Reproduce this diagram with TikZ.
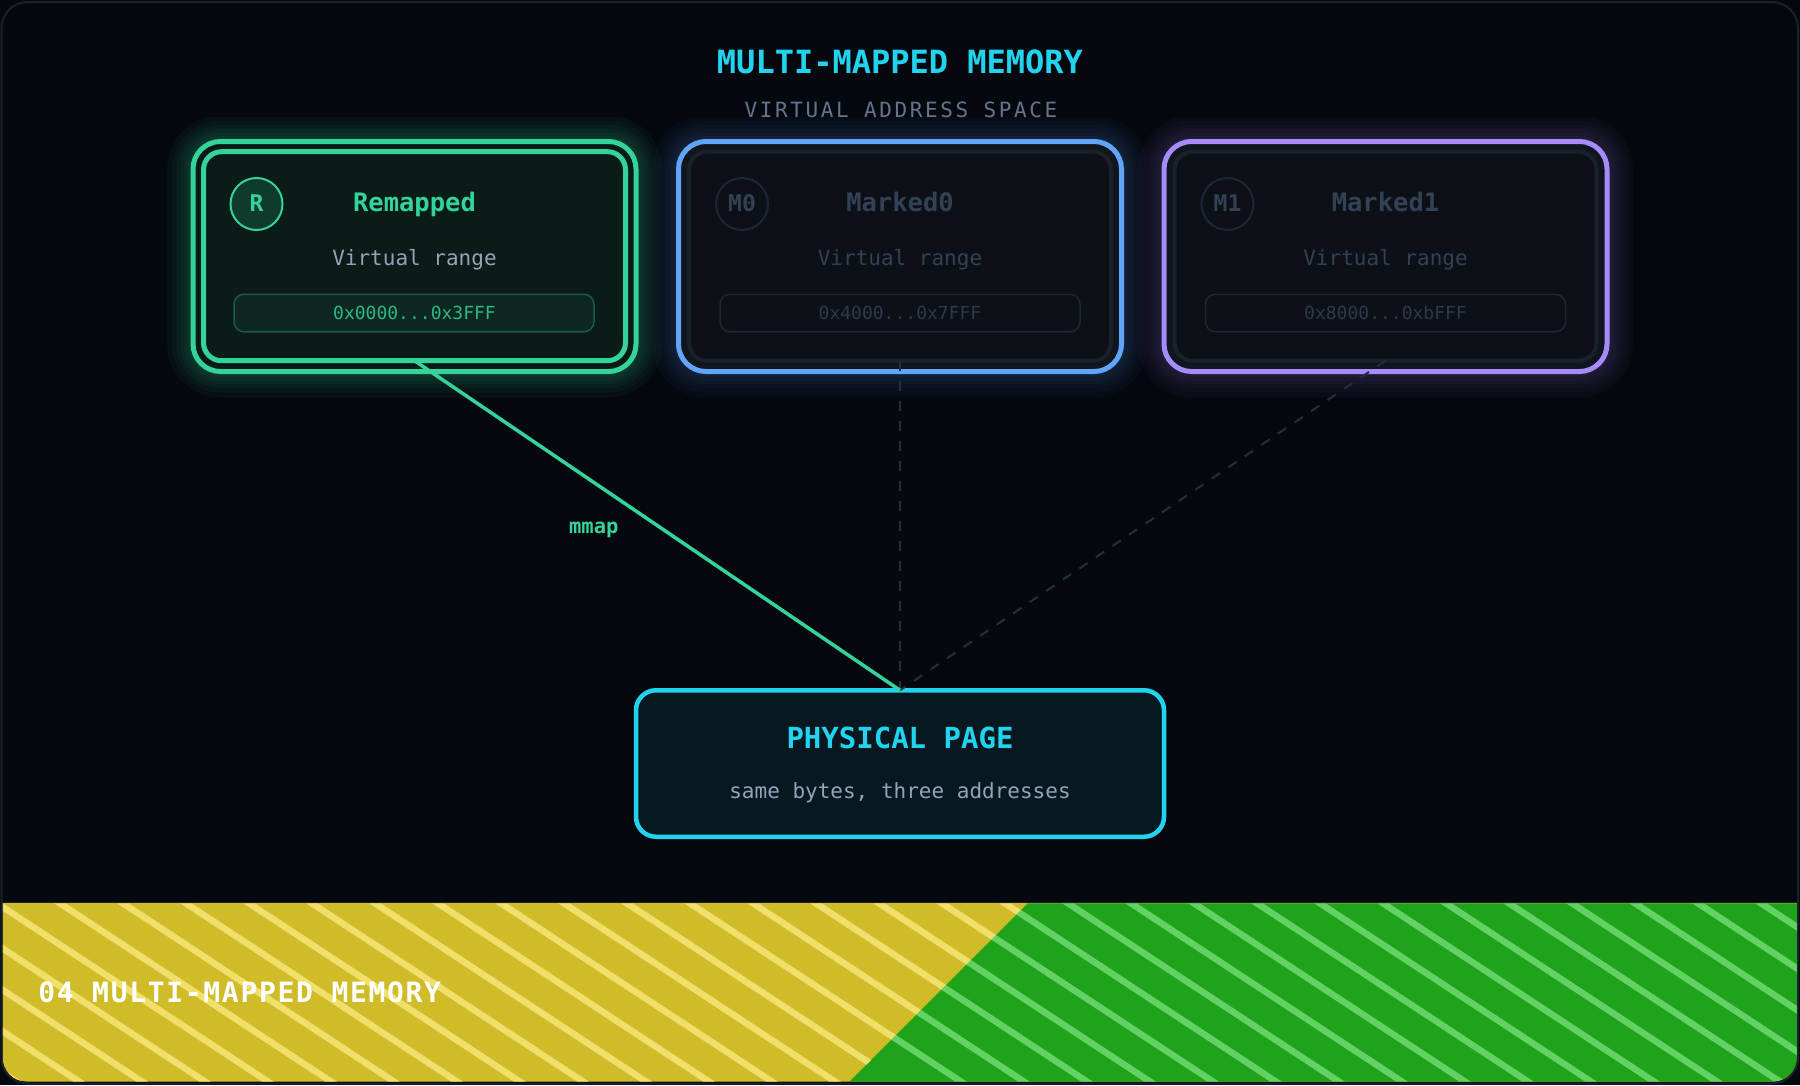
\documentclass[tikz,border=0pt]{standalone}
\usepackage{fontspec}
\newfontfamily\dvm{DejaVu Sans Mono}
\newfontfamily\dvmsub[LetterSpace=12.5]{DejaVu Sans Mono}
\newfontfamily\dvmband[LetterSpace=6]{DejaVu Sans Mono}
\usetikzlibrary{calc}
\definecolor{bg}{HTML}{05080F}
\definecolor{framec}{HTML}{1C222C}
\definecolor{ccyan}{HTML}{22D3EE}
\definecolor{cgreen}{HTML}{34D399}
\definecolor{cblue}{HTML}{60A5FA}
\definecolor{cviolet}{HTML}{A78BFA}
\definecolor{slatefour}{HTML}{94A3B8}
\definecolor{slatefive}{HTML}{64748B}
\definecolor{dimtext}{HTML}{334155}
\definecolor{dimaddr}{HTML}{2E3A4A}
\definecolor{dimline}{HTML}{1E2733}
\definecolor{dashc}{HTML}{252E3B}
\definecolor{remfill}{HTML}{0A1B18}
\definecolor{remring}{HTML}{0A1A17}
\definecolor{rempill}{HTML}{0D2823}
\definecolor{rempilld}{HTML}{1B5A45}
\definecolor{remaddr}{HTML}{2DB886}
\definecolor{badgefill}{HTML}{0F3A2D}
\definecolor{mfill}{HTML}{0D1017}
\definecolor{mring}{HTML}{10151E}
\definecolor{mcardline}{HTML}{1A212B}
\definecolor{physfill}{HTML}{081820}
\definecolor{yel}{HTML}{CFBC28}
\definecolor{yell}{HTML}{F0DF6B}
\definecolor{grn}{HTML}{1EA31B}
\definecolor{grnl}{HTML}{63D163}
\newcommand\glowbox[3]{%
  \begin{scope}
    \clip (#1-266.5,117.5) rectangle (#1+266.5,397.5);
    \foreach \w in {52,42,33,25,18,11}{%
      \draw[#2, opacity=#3, line width=\w pt, rounded corners=27.5pt] (#1-221.5,141.5) rectangle (#1+221.5,371.5);}
  \end{scope}}
\begin{document}
\begin{tikzpicture}[x=1pt,y=-1pt,
  every node/.style={inner sep=0pt, outer sep=0pt},
  ringbox/.style={rectangle, line width=5pt, rounded corners=27.5pt, minimum width=443pt, minimum height=230pt},
  cardbox/.style={rectangle, line width=4pt, rounded corners=18pt, minimum width=422pt, minimum height=209pt},
  pillbox/.style={rectangle, line width=1.5pt, rounded corners=10pt, minimum width=360pt, minimum height=37.5pt},
  badge/.style={circle, line width=2pt, minimum size=52pt},
  badgetxt/.style={anchor=base, font=\dvm\bfseries\fontsize{23}{27}\selectfont},
  cardtitle/.style={anchor=base, font=\dvm\bfseries\fontsize{25.5}{30}\selectfont},
  cardsub/.style={anchor=base, font=\dvm\fontsize{21}{25}\selectfont},
  addrtxt/.style={anchor=base, font=\dvm\fontsize{18}{22}\selectfont},
  physbox/.style={rectangle, draw=ccyan, fill=physfill, line width=4.5pt, rounded corners=20pt, minimum width=528pt, minimum height=146.5pt},
  mapline/.style={cgreen, line width=3.5pt},
  ghostline/.style={dashc, line width=2pt, dash pattern=on 10pt off 10pt}
]
\useasboundingbox (0,0) rectangle (1800,1085);
\fill[bg] (0,0) rectangle (1800,1085);

% glows
\glowbox{414.5}{cgreen}{0.045}
\glowbox{900}{cblue}{0.03}
\glowbox{1385.5}{cviolet}{0.03}

% titles
\node[anchor=base, text=ccyan, font=\dvm\bfseries\fontsize{32}{38}\selectfont] (title) at (900,73.3) {MULTI-MAPPED MEMORY};
\node[anchor=base, text=slatefive, font=\dvmsub\fontsize{21}{25}\selectfont] (subtitle) at (901,117.7) {VIRTUAL ADDRESS SPACE};

% Remapped
\node[ringbox, draw=cgreen, fill=remring] (remring) at (414.5,256.5) {};
\node[cardbox, draw=cgreen, fill=remfill, line width=5pt] (rem) at (414.5,256.2) {};
\node[badge, draw=cgreen, fill=badgefill] (remb) at (256.5,204) {};
\node[badgetxt, text=cgreen] (rembt) at (256.5,211) {R};
\node[cardtitle, text=cgreen] (remt) at (414.5,211.7) {Remapped};
\node[cardsub, text=slatefour] (rems) at (414.5,265) {Virtual range};
\node[pillbox, draw=rempilld, fill=rempill] (remp) at (414,313) {};
\node[addrtxt, text=remaddr] (rema) at (414.5,319.3) {0x0000...0x3FFF};

% Marked0
\node[ringbox, draw=cblue, fill=mring] (m0ring) at (900,256.5) {};
\node[cardbox, draw=mcardline, fill=mfill] (m0) at (900,256.2) {};
\node[badge, draw=dimline] (m0b) at (742,204) {};
\node[badgetxt, text=dimtext] (m0bt) at (742,211) {M0};
\node[cardtitle, text=dimtext] (m0t) at (900,211.7) {Marked0};
\node[cardsub, text=dimtext] (m0s) at (900,265) {Virtual range};
\node[pillbox, draw=dimline] (m0p) at (900,313) {};
\node[addrtxt, text=dimaddr] (m0a) at (900,319.3) {0x4000...0x7FFF};

% Marked1
\node[ringbox, draw=cviolet, fill=mring] (m1ring) at (1385.5,256.5) {};
\node[cardbox, draw=mcardline, fill=mfill] (m1) at (1385.5,256.2) {};
\node[badge, draw=dimline] (m1b) at (1227.5,204) {};
\node[badgetxt, text=dimtext] (m1bt) at (1227.5,211) {M1};
\node[cardtitle, text=dimtext] (m1t) at (1385.5,211.7) {Marked1};
\node[cardsub, text=dimtext] (m1s) at (1385.5,265) {Virtual range};
\node[pillbox, draw=dimline] (m1p) at (1385.5,313) {};
\node[addrtxt, text=dimaddr] (m1a) at (1385.5,319.3) {0x8000...0xbFFF};

% physical page
\node[physbox] (phys) at (900,763.5) {};
\node[anchor=base, text=ccyan, font=\dvm\bfseries\fontsize{29}{34}\selectfont] (physt) at (900,748.3) {PHYSICAL PAGE};
\node[anchor=base, text=slatefour, font=\dvm\fontsize{21}{25}\selectfont] (physs) at (900,798.3) {same bytes, three addresses};

% connectors
\draw[ghostline] (m0.south) -- (phys.north);
\draw[ghostline] (m1.south) -- (phys.north);
\draw[mapline] (rem.south) -- (phys.north)
  node[pos=0.5, anchor=base, xshift=-63.5pt, yshift=-7.8pt, text=cgreen, font=\dvm\bfseries\fontsize{20.5}{24}\selectfont] (mmaplbl) {mmap};

% bottom band
\begin{scope}
  \clip[rounded corners=24pt] (2.5,3) rectangle (1797,1081.5);
  \fill[yel] (0,903.3) rectangle (1800,1085);
  \fill[grn] (1027.7,903.3) -- (1800,903.3) -- (1800,1085) -- (846,1085) -- cycle;
  \begin{scope}
    \clip (0,903.3) -- (1027.7,903.3) -- (846,1085) -- (0,1085) -- cycle;
    \foreach \k in {-6,...,17}{\draw[yell, line width=6.5pt] (60+63*\k-400,903.3-263.2) -- (60+63*\k+400,903.3+263.2);}
  \end{scope}
  \begin{scope}
    \clip (1027.7,903.3) -- (1800,903.3) -- (1800,1085) -- (846,1085) -- cycle;
    \foreach \k in {10,...,30}{\draw[grnl, line width=6.5pt] (60+63*\k-400,903.3-263.2) -- (60+63*\k+400,903.3+263.2);}
  \end{scope}
\end{scope}
\draw[framec, line width=1.5pt] (2,902.5) -- (1798,902.5);
\node[anchor=base west, text=white, font=\dvmband\bfseries\fontsize{28}{33}\selectfont] (bandlbl) at (38.3,1002.7) {04 MULTI-MAPPED MEMORY};

% frame
\draw[framec, line width=2pt, rounded corners=26pt] (1.5,2) rectangle (1798,1083.5);
\end{tikzpicture}
\end{document}
